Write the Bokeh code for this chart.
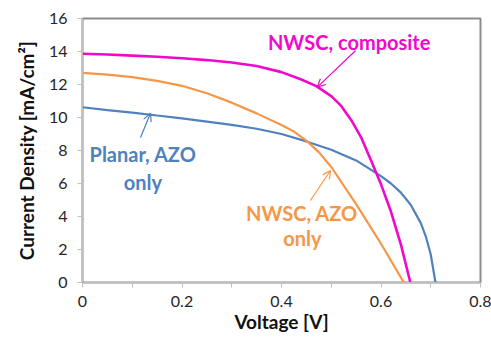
from bokeh.plotting import figure
from bokeh.models import Range1d, FixedTicker, Label, Arrow, OpenHead
from bokeh.embed import file_html
from bokeh.resources import INLINE

# Data
v_comp = [0.00, 0.05, 0.10, 0.15, 0.20, 0.25, 0.30, 0.35, 0.40, 0.44, 0.47, 0.50, 0.52, 0.54, 0.56, 0.58, 0.60, 0.62, 0.64, 0.659]
j_comp = [13.86, 13.82, 13.75, 13.68, 13.59, 13.48, 13.33, 13.12, 12.75, 12.3, 11.9, 11.3, 10.7, 9.85, 8.8, 7.4, 5.95, 4.3, 2.3, 0.0]

v_azo = [0.00, 0.05, 0.10, 0.15, 0.20, 0.25, 0.30, 0.35, 0.40, 0.425, 0.45, 0.475, 0.50, 0.55, 0.60, 0.646]
j_azo = [12.7, 12.6, 12.45, 12.22, 11.92, 11.47, 10.9, 10.25, 9.55, 9.15, 8.6, 7.9, 7.0, 4.75, 2.35, 0.0]

v_plan = [0.00, 0.05, 0.10, 0.15, 0.20, 0.25, 0.30, 0.35, 0.40, 0.45, 0.50, 0.55, 0.60, 0.62, 0.64, 0.66, 0.68, 0.69, 0.70, 0.7095]
j_plan = [10.62, 10.45, 10.3, 10.12, 9.95, 9.75, 9.55, 9.32, 9.0, 8.55, 8.05, 7.4, 6.45, 6.0, 5.45, 4.7, 3.6, 2.8, 1.7, 0.0]

x_ticks = [0, 0.2, 0.4, 0.6, 0.8]
x_minor = [0.1, 0.3, 0.5, 0.7]
y_ticks = [0, 2, 4, 6, 8, 10, 12, 14, 16]

MAG = "#F008CC"
ORA = "#F79646"
BLU = "#4F81BD"
FONT = "Lato"

p = figure(width=491, height=337, output_backend="svg", toolbar_location=None,
           x_range=Range1d(0, 0.8), y_range=Range1d(0, 16),
           min_border_left=82, min_border_top=18, min_border_right=11, min_border_bottom=55)

p.line(v_plan, j_plan, line_color=BLU, line_width=2.2)
p.line(v_azo, j_azo, line_color=ORA, line_width=2.2)
p.line(v_comp, j_comp, line_color=MAG, line_width=2.6)

p.xgrid.visible = False
p.ygrid.visible = False
p.outline_line_color = "#8C8C8C"
p.outline_line_width = 2
p.background_fill_color = "white"
p.border_fill_color = "white"

for ax in (p.xaxis[0], p.yaxis[0]):
    ax.axis_line_color = "#BFBFBF"
    ax.major_tick_line_color = "#BFBFBF"
    ax.minor_tick_line_color = "#BFBFBF"
    ax.major_tick_in = 0
    ax.major_tick_out = 5
    ax.minor_tick_in = 0
    ax.minor_tick_out = 5
    ax.major_label_text_font = FONT
    ax.major_label_text_font_size = "16px"
    ax.major_label_text_color = "#262626"
    ax.axis_label_text_font = FONT
    ax.axis_label_text_font_style = "bold"
    ax.axis_label_text_font_size = "19px"
    ax.axis_label_text_color = "#111111"

p.xaxis.ticker = FixedTicker(ticks=x_ticks, minor_ticks=x_minor)
p.yaxis.ticker = FixedTicker(ticks=y_ticks, minor_ticks=[])
p.xaxis.major_label_overrides = {0: "0"}
p.xaxis.axis_label = "Voltage [V]"
p.yaxis.axis_label = "Current Density [mA/cm²]"
p.xaxis.major_label_standoff = 8
p.yaxis.major_label_standoff = 10
p.xaxis.axis_label_standoff = 0
p.yaxis.axis_label_standoff = 8

def lab(x, y, t, c):
    p.add_layout(Label(x=x, y=y, text=t, text_color=c, text_font=FONT,
                       text_font_size="20px", text_font_style="bold",
                       text_align="center", text_baseline="middle"))

lab(0.536, 14.55, "NWSC, composite", MAG)
lab(0.1216, 7.76, "Planar, AZO", BLU)
lab(0.1216, 6.12, "only", BLU)
lab(0.441, 4.24, "NWSC, AZO", ORA)
lab(0.442, 2.67, "only", ORA)

p.add_layout(Arrow(x_start=0.549, y_start=14.06, x_end=0.472, y_end=11.84,
                   line_color=MAG, line_width=1.2,
                   end=OpenHead(size=8, line_color=MAG, line_width=1.2)))
p.add_layout(Arrow(x_start=0.1166, y_start=8.79, x_end=0.1367, y_end=10.26,
                   line_color=BLU, line_width=1.2,
                   end=OpenHead(size=8, line_color=BLU, line_width=1.2)))
p.add_layout(Arrow(x_start=0.458, y_start=4.97, x_end=0.4985, y_end=6.79,
                   line_color=ORA, line_width=1.2,
                   end=OpenHead(size=8, line_color=ORA, line_width=1.2)))

open("out.html", "w").write(file_html(p, INLINE))
